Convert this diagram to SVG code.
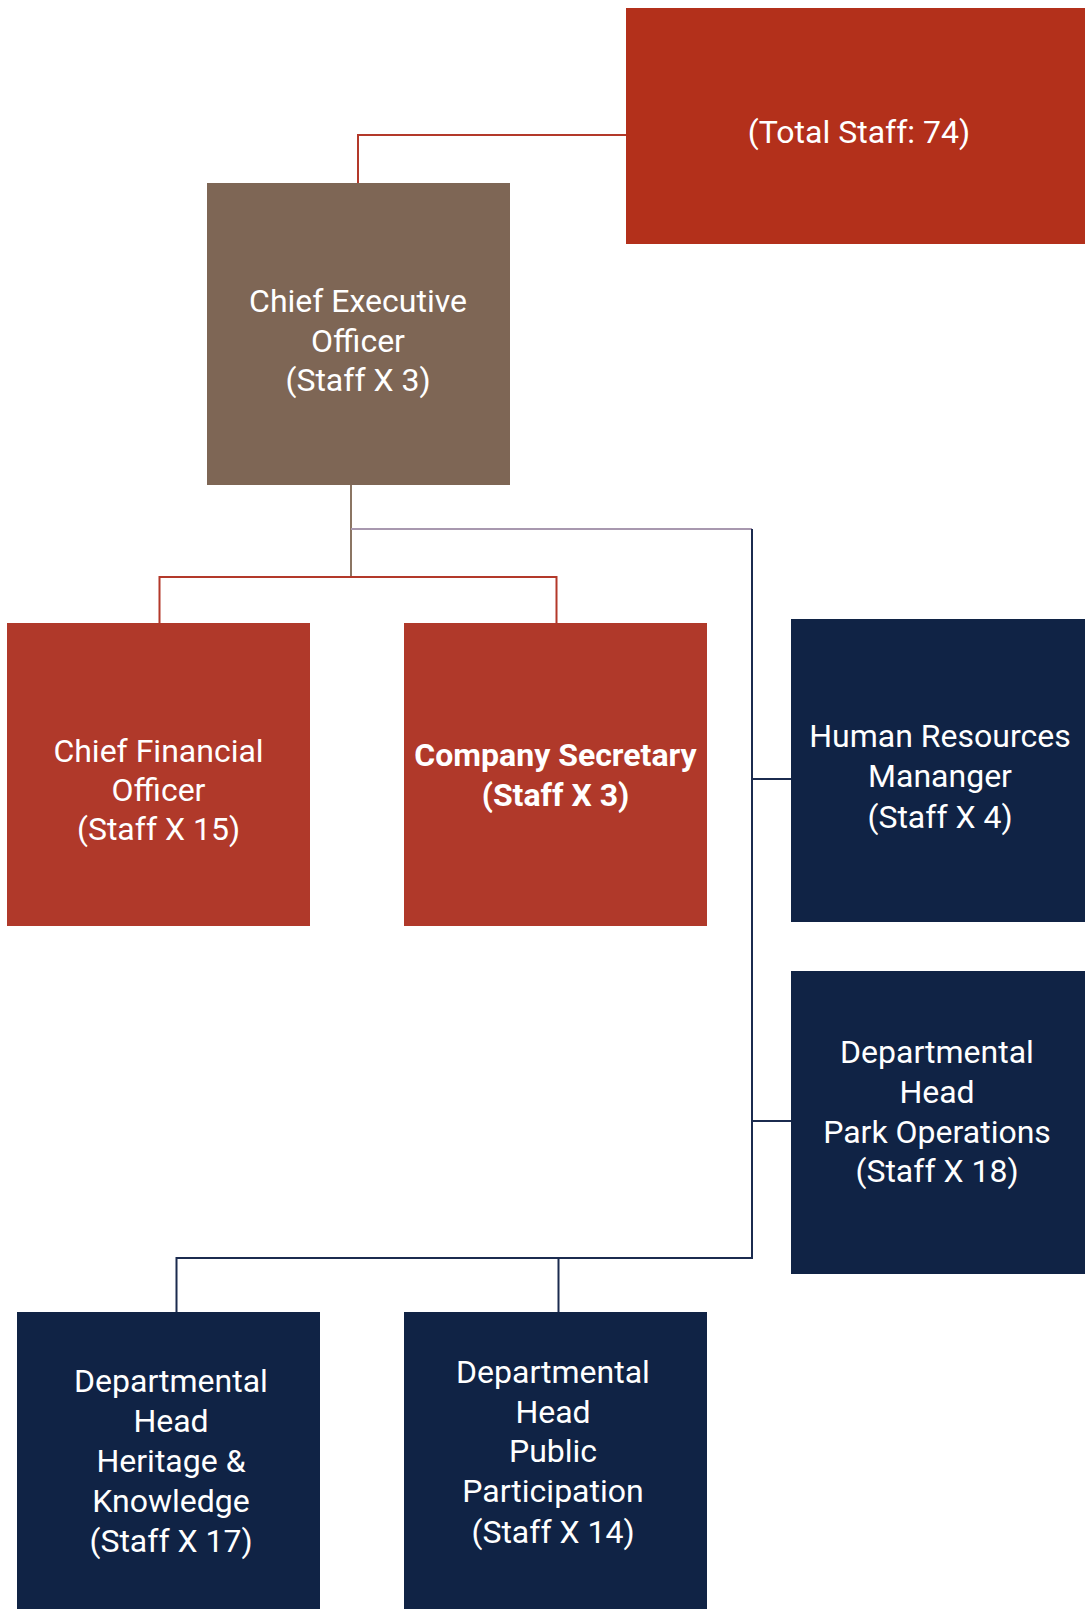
<svg xmlns="http://www.w3.org/2000/svg" width="1085" height="1609" viewBox="0 0 1085 1609">
<style>
text{font-family:Roboto,"Liberation Sans",sans-serif;font-size:32px;fill:#ffffff;text-anchor:middle}
.b{font-weight:bold}
.red{fill:#b0392a}
.top{fill:#b3301b}
.brown{fill:#7e6655}
.navy{fill:#102345}
.cn{fill:none;stroke-width:2}
</style>
<rect width="1085" height="1609" fill="#ffffff"/>
<g id="connectors">
<polyline class="cn" stroke="#b3392a" points="626,135 358,135 358,183"/>
<line class="cn" stroke="#8b7563" x1="351" y1="485" x2="351" y2="577"/>
<line class="cn" stroke="#a898af" stroke-width="3" x1="351" y1="529" x2="752" y2="529"/>
<polyline class="cn" stroke="#b3392a" points="159.5,623 159.5,577 556.5,577 556.5,623"/>
<polyline class="cn" stroke="#1b2b4f" points="752,529 752,1258 176.5,1258 176.5,1312"/>
<line class="cn" stroke="#1b2b4f" x1="752" y1="779" x2="791" y2="779"/>
<line class="cn" stroke="#1b2b4f" x1="752" y1="1121" x2="791" y2="1121"/>
<line class="cn" stroke="#1b2b4f" x1="558.5" y1="1258" x2="558.5" y2="1312"/>
</g>
<g id="total">
<rect class="top" x="626" y="8" width="459" height="236"/>
<text x="859" y="143">(Total Staff: 74)</text>
</g>
<g id="ceo">
<rect class="brown" x="207" y="183" width="303" height="302"/>
<text x="358" y="312">Chief Executive</text>
<text x="358" y="352">Officer</text>
<text x="358" y="391">(Staff X 3)</text>
</g>
<g id="cfo">
<rect class="red" x="7" y="623" width="303" height="303"/>
<text x="158.5" y="762">Chief Financial</text>
<text x="158.5" y="801">Officer</text>
<text x="158.5" y="840">(Staff X 15)</text>
</g>
<g id="secretary">
<rect class="red" x="404" y="623" width="303" height="303"/>
<text class="b" x="555.5" y="766">Company Secretary</text>
<text class="b" x="555.5" y="806">(Staff X 3)</text>
</g>
<g id="hr">
<rect class="navy" x="791" y="619" width="294" height="303"/>
<text x="940" y="747">Human Resources</text>
<text x="940" y="787">Mananger</text>
<text x="940" y="828">(Staff X 4)</text>
</g>
<g id="parkops">
<rect class="navy" x="791" y="971" width="294" height="303"/>
<text x="937" y="1063">Departmental</text>
<text x="937" y="1103">Head</text>
<text x="937" y="1143">Park Operations</text>
<text x="937" y="1182">(Staff X 18)</text>
</g>
<g id="heritage">
<rect class="navy" x="17" y="1312" width="303" height="297"/>
<text x="171" y="1392">Departmental</text>
<text x="171" y="1432">Head</text>
<text x="171" y="1472">Heritage &amp;</text>
<text x="171" y="1512">Knowledge</text>
<text x="171" y="1552">(Staff X 17)</text>
</g>
<g id="public">
<rect class="navy" x="404" y="1312" width="303" height="297"/>
<text x="553" y="1383">Departmental</text>
<text x="553" y="1423">Head</text>
<text x="553" y="1462">Public</text>
<text x="553" y="1502">Participation</text>
<text x="553" y="1543">(Staff X 14)</text>
</g>
</svg>
